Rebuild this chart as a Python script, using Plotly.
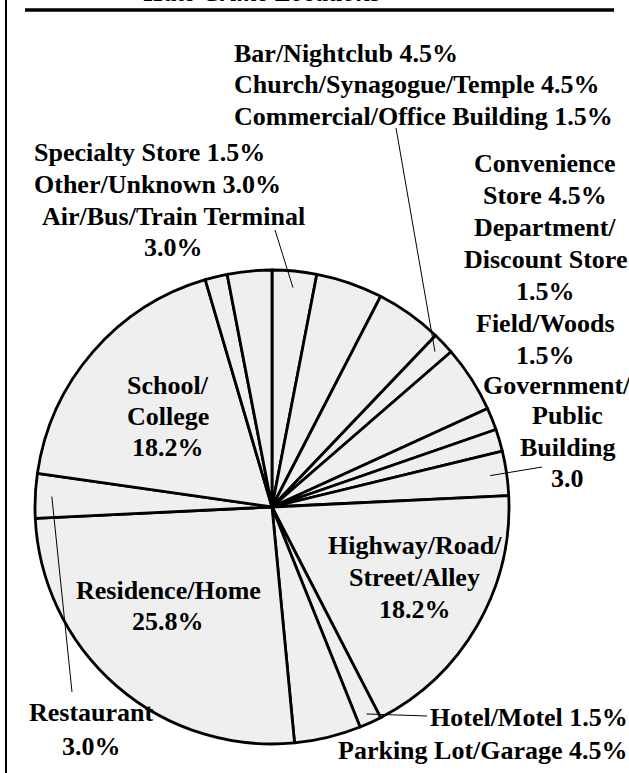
import math
import plotly.graph_objects as go

# ---- data ----
categories = [
    "Air/Bus/Train Terminal", "Bar/Nightclub", "Church/Synagogue/Temple",
    "Commercial/Office Building", "Convenience Store", "Department/Discount Store",
    "Field/Woods", "Government/Public Building", "Highway/Road/Street/Alley",
    "Hotel/Motel", "Parking Lot/Garage", "Residence/Home", "Restaurant",
    "School/College", "Specialty Store", "Other/Unknown",
]
counts = [2, 3, 3, 1, 3, 1, 1, 2, 12, 1, 3, 17, 2, 12, 1, 2]

title_text = "Hate Crime Locations"

W, H = 629, 773
CX, CY, R = 272, 507, 237   # pie centre / radius in px

def px(x):
    return x / W

def py(y):
    return 1 - y / H

fig = go.Figure()
fig.add_trace(go.Pie(
    labels=categories, values=counts, sort=False, direction="clockwise",
    rotation=0, textinfo="none", hoverinfo="label+percent",
    marker=dict(colors=["#efefef"] * len(counts), line=dict(color="black", width=2.8)),
    domain=dict(x=[px(CX - R), px(CX + R)], y=[py(CY + R), py(CY - R)]),
    showlegend=False,
))

FONT = dict(family="Liberation Serif", size=26, color="black")

def block(lines, x, y0, dy=32, xanchor="center"):
    for k, line in enumerate(lines):
        fig.add_annotation(
            text="<b>" + line + "</b>", x=px(x), y=py(y0 + k * dy),
            xref="paper", yref="paper", xanchor=xanchor, yanchor="middle",
            showarrow=False, font=FONT,
        )

block(["Bar/Nightclub 4.5%", "Church/Synagogue/Temple 4.5%",
       "Commercial/Office Building 1.5%"], 232, 53, 31.5, "left")
block(["Specialty Store 1.5%", "Other/Unknown 3.0%"], 32, 153, 32, "left")
block(["Air/Bus/Train Terminal", "3.0%"], 174, 217, 30)
block(["Convenience", "Store 4.5%", "Department/", "Discount Store", "1.5%",
       "Field/Woods", "1.5%"], 545, 163, 32)
block(["Government/"], 557, 385, 0)
block(["Public", "Building", "3.0"], 567, 416, 31)
block(["School/", "College", "18.2%"], 168, 385, 31.5)
block(["Residence/Home", "25.8%"], 168, 590, 31)
block(["Highway/Road/", "Street/Alley", "18.2%"], 415, 545, 32)
block(["Restaurant", "3.0%"], 91, 712, 34)
block(["Hotel/Motel 1.5%"], 630, 717, 0, "right")
block(["Parking Lot/Garage 4.5%"], 630, 750, 0, "right")

# partially cut-off title
fig.add_annotation(
    text="<b><i>" + title_text + "</i></b>", x=px(262), y=py(8.5), xref="paper", yref="paper",
    xanchor="center", yanchor="bottom", showarrow=False,
    font=dict(family="Liberation Serif", size=26, color="black"),
)

# leader lines: inner end at slice mid-angle (from data)
total = sum(counts)
cum = []
acc = 0
for c in counts:
    cum.append((acc + c / 2) / total)
    acc += c

def inner(cat, frac):
    i = categories.index(cat)
    a = 2 * math.pi * cum[i]
    return CX + frac * R * math.sin(a), CY - frac * R * math.cos(a)

leaders = [
    ("Air/Bus/Train Terminal", 0.93, (275, 230)),
    ("Commercial/Office Building", 0.95, (396, 128)),
    ("Government/Public Building", 0.93, (542, 467)),
    ("Hotel/Motel", 0.96, (427, 716)),
    ("Restaurant", 0.93, (72, 692)),
]
for cat, frac, (ox, oy) in leaders:
    ix, iy = inner(cat, frac)
    fig.add_shape(type="line", xref="paper", yref="paper",
                  x0=px(ox), y0=py(oy), x1=px(ix), y1=py(iy),
                  line=dict(color="black", width=1))

# frame lines
fig.add_shape(type="line", xref="paper", yref="paper",
              x0=px(6), y0=py(0), x1=px(6), y1=py(H), line=dict(color="black", width=2))
fig.add_shape(type="line", xref="paper", yref="paper",
              x0=px(25), y0=py(10), x1=px(614), y1=py(10), line=dict(color="black", width=3.5))

fig.update_layout(
    width=W, height=H, margin=dict(l=0, r=0, t=0, b=0),
    paper_bgcolor="white", plot_bgcolor="white",
)
fig.write_html(
    "out.html",
    config={"displayModeBar": False},
    post_script="document.body.style.margin='0';document.body.style.overflow='hidden';",
)
